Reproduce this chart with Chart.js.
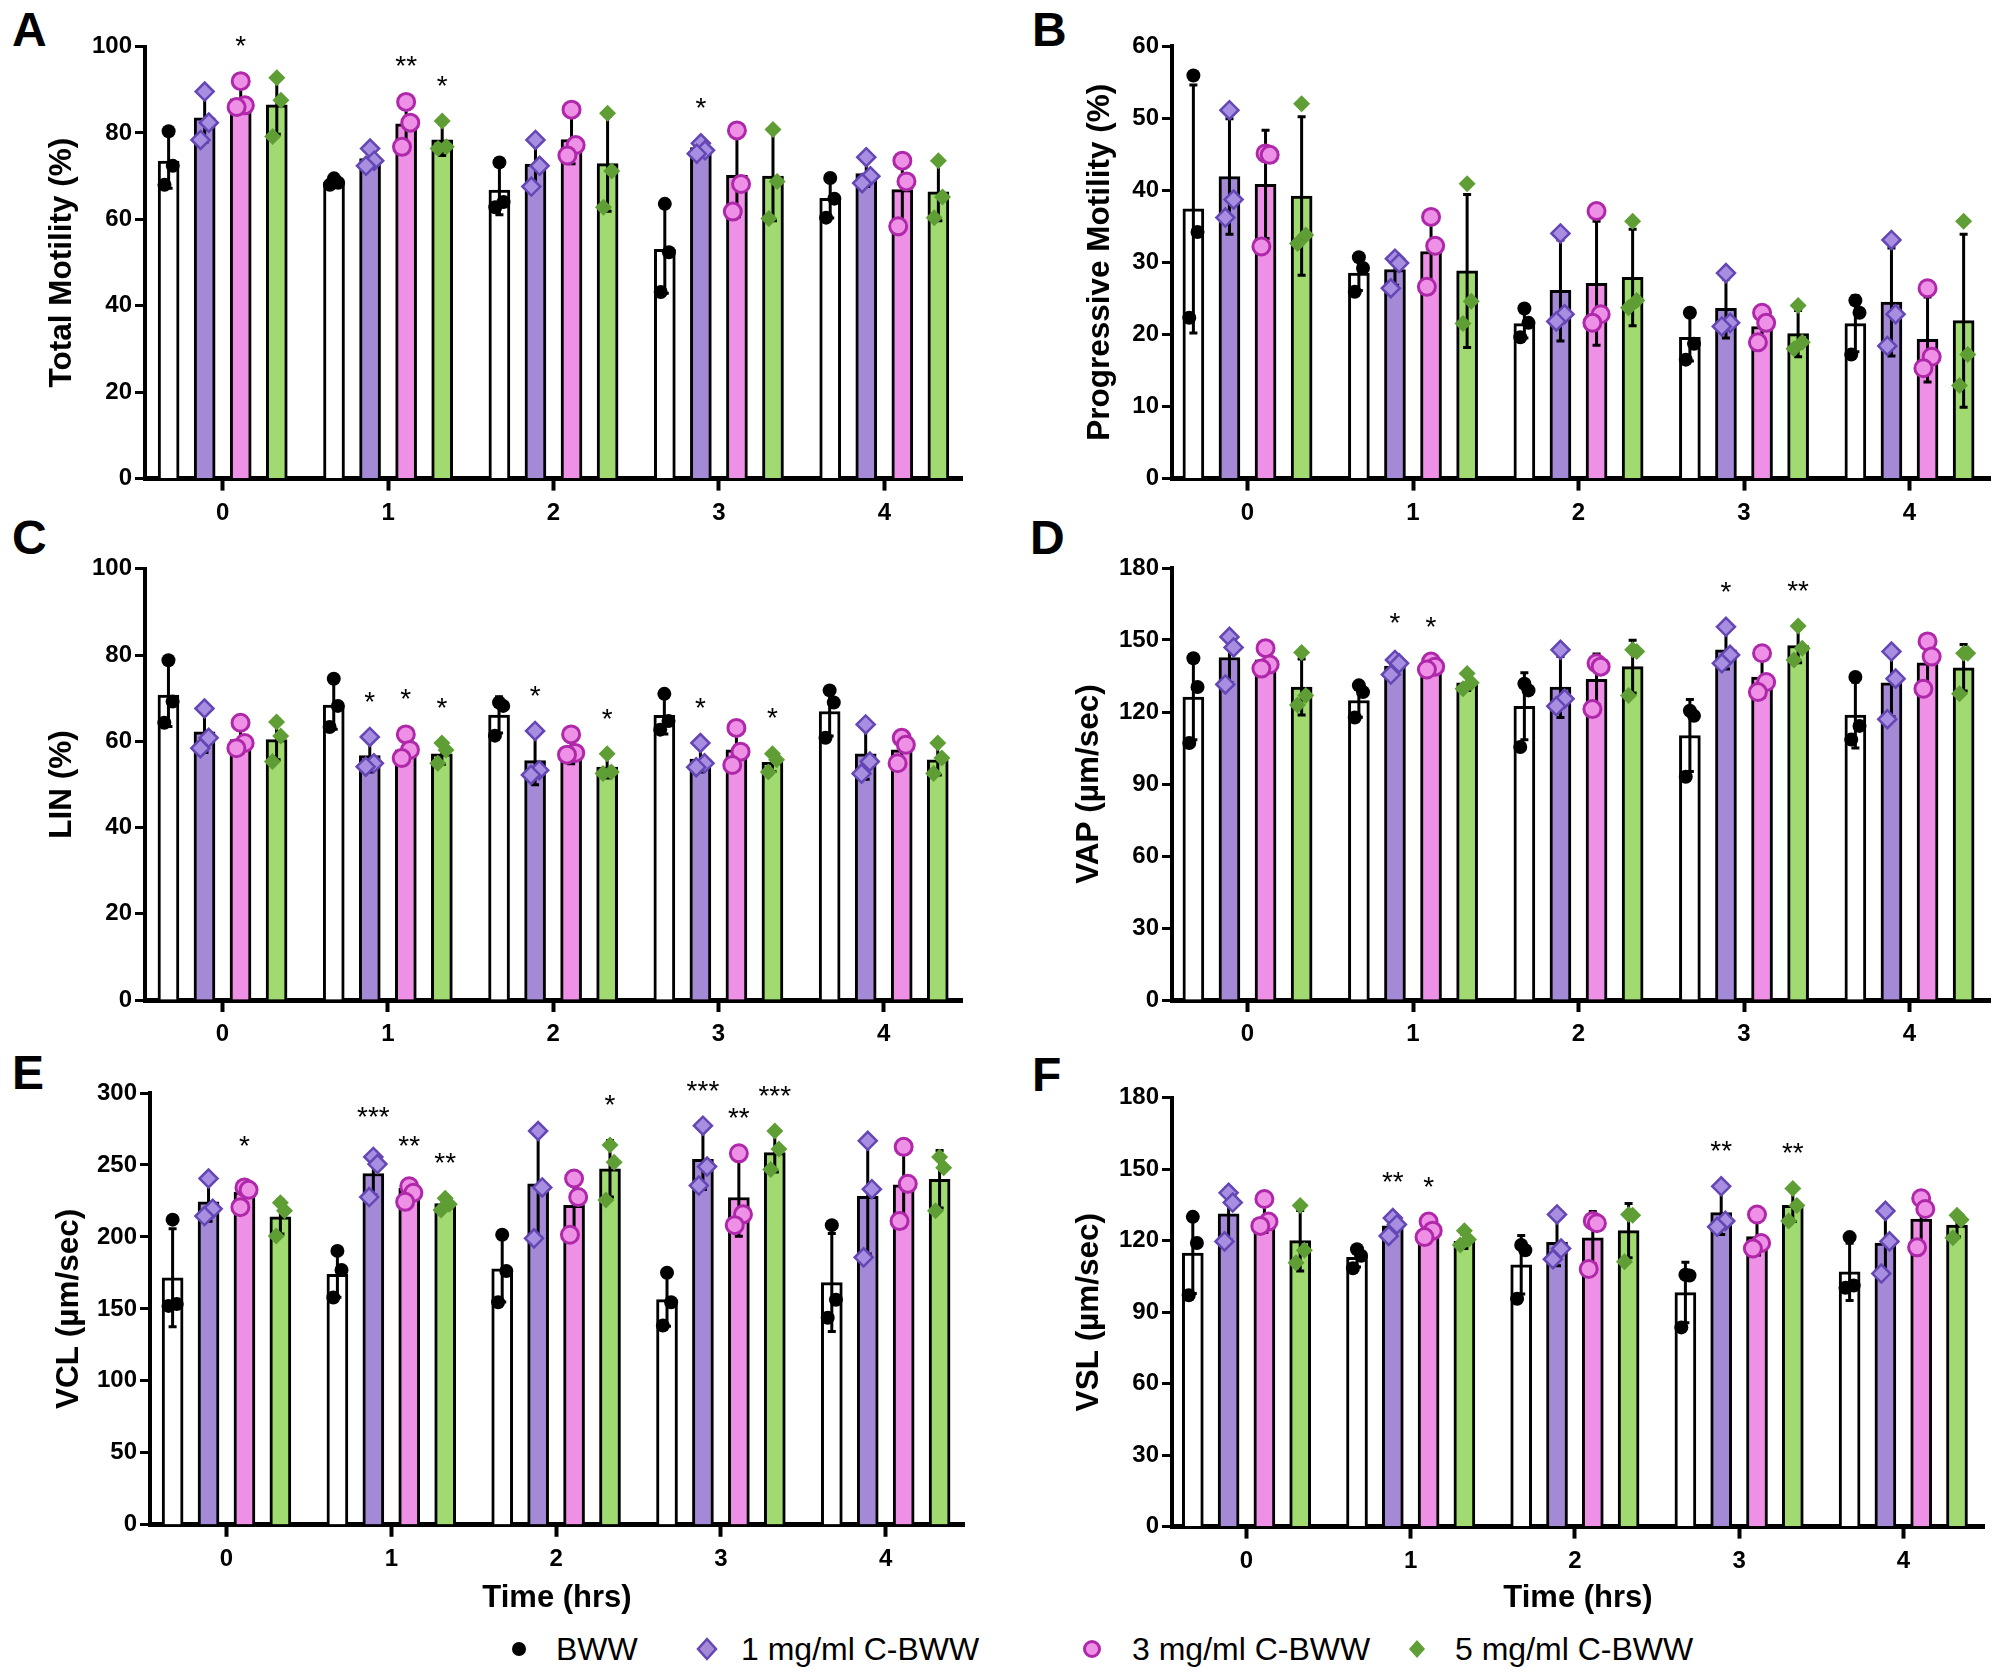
<!DOCTYPE html>
<html>
<head>
<meta charset="utf-8">
<script src="https://cdn.jsdelivr.net/npm/chart.js@4"></script>
<style>
  body { margin:0; background:#fff; width:2001px; height:1673px; position:relative; overflow:hidden;
         font-family:"Liberation Sans", Arial, sans-serif; }
  canvas { position:absolute; }
  .letter { position:absolute; font-weight:bold; font-size:48px; line-height:1; color:#000; }
  .lg { position:absolute; top:1631px; height:36px; line-height:36px; font-size:32px; color:#000; white-space:nowrap; }
  .sym { position:absolute; top:1637px; }
</style>
</head>
<body>
<div class="letter" style="left:12px;top:6px">A</div>
<div class="letter" style="left:1032px;top:6px">B</div>
<div class="letter" style="left:12px;top:514px">C</div>
<div class="letter" style="left:1030px;top:514px">D</div>
<div class="letter" style="left:12px;top:1049px">E</div>
<div class="letter" style="left:1032px;top:1051px">F</div>

<svg class="sym" style="left:507px" width="24" height="24"><circle cx="12" cy="12" r="7" fill="#000"/></svg>
<div class="lg" style="left:556px">BWW</div>
<svg class="sym" style="left:695px" width="24" height="24"><polygon points="12,2 21,12 12,22 3,12" fill="#a48ad6" stroke="#6446b4" stroke-width="2.5"/></svg>
<div class="lg" style="left:741px">1 mg/ml C-BWW</div>
<svg class="sym" style="left:1080px" width="24" height="24"><circle cx="12" cy="12" r="7.5" fill="#ee90e6" stroke="#b028aa" stroke-width="3"/></svg>
<div class="lg" style="left:1132px">3 mg/ml C-BWW</div>
<svg class="sym" style="left:1405px" width="24" height="24"><polygon points="12,3 20,12 12,21 4,12" fill="#5f9e35"/></svg>
<div class="lg" style="left:1455px">5 mg/ml C-BWW</div>

<script>
// time points and treatment groups
const categories = ['0', '1', '2', '3', '4'];
const groups = ['BWW', '1 mg/ml C-BWW', '3 mg/ml C-BWW', '5 mg/ml C-BWW'];

// A - total motility (%): mean, SD, individual replicates [group][time][rep]
const motMean = [[73.5, 68.6, 66.8, 53.1, 64.9], [83.5, 74.1, 72.8, 76.6, 70.6], [87.9, 82.1, 78.5, 70.2, 66.9], [86.5, 78.4, 72.9, 70.0, 66.4]];
const motSD = [[6.3, 0.7, 5.7, 10.2, 4.6], [5.6, 2.0, 5.4, 1.2, 3.0], [3.4, 5.2, 5.6, 9.6, 7.8], [6.8, 3.6, 11.0, 10.3, 6.7]];
const motPts = [
  [[80.4, 72.4, 68.0], [69.5, 68.5, 68.0], [73.2, 64.0, 62.8], [63.6, 52.4, 43.2], [69.6, 64.8, 60.4]],
  [[89.6, 82.4, 78.4], [76.4, 73.6, 72.4], [78.4, 72.4, 67.6], [77.6, 76.0, 75.2], [74.4, 70.0, 68.4]],
  [[92.0, 86.4, 86.0], [87.2, 82.4, 76.8], [85.4, 77.2, 74.8], [80.6, 68.2, 61.8], [73.6, 68.8, 58.4]],
  [[92.8, 87.6, 79.2], [82.8, 76.8, 76.4], [84.6, 71.2, 62.8], [80.8, 68.8, 60.2], [73.6, 65.2, 60.4]]
];
const motStars = [[0, 2, '*'], [1, 2, '**'], [1, 3, '*'], [3, 1, '*']];

// B - progressive motility (%)
const progMean = [[37.4, 28.5, 21.5, 19.6, 21.5], [41.9, 29.0, 26.1, 23.6, 24.5], [40.8, 31.5, 27.1, 21.1, 19.3], [39.2, 28.8, 27.9, 20.1, 21.9]];
const progSD = [[17.2, 2.4, 2.0, 3.3, 3.9], [8.0, 2.2, 7.0, 4.1, 7.5], [7.5, 4.8, 8.6, 2.1, 5.9], [11.0, 10.6, 6.7, 3.2, 12.0]];
const progPts = [
  [[55.9, 34.2, 22.3], [30.7, 29.2, 25.9], [23.6, 21.6, 19.6], [23.0, 18.7, 16.5], [24.7, 23.0, 17.2]],
  [[51.1, 38.7, 36.2], [30.5, 29.9, 26.4], [34.0, 22.8, 21.8], [28.5, 21.6, 21.1], [33.1, 22.8, 18.4]],
  [[45.1, 44.9, 32.2], [36.3, 32.3, 26.6], [37.1, 22.8, 21.6], [23.0, 21.6, 18.9], [26.4, 16.9, 15.3]],
  [[52.0, 33.8, 32.6], [40.9, 24.6, 21.5], [35.7, 24.7, 23.7], [24.0, 18.9, 18.0], [35.7, 17.2, 12.9]]
];
const progStars = [];

// C - LIN (%)
const linMean = [[70.7, 68.4, 66.1, 66.0, 66.9], [62.2, 56.7, 55.5, 55.9, 57.1], [60.4, 58.0, 57.4, 58.0, 58.0], [60.4, 57.1, 54.0, 55.1, 55.7]];
const linSD = [[7.3, 5.6, 4.2, 4.3, 5.7], [4.8, 3.8, 5.6, 3.0, 5.9], [3.1, 2.8, 2.6, 4.4, 3.0], [4.7, 2.4, 2.5, 2.1, 3.5]];
const linPts = [
  [[78.8, 69.2, 64.3], [74.5, 68.2, 63.3], [69.0, 68.2, 61.3], [71.0, 64.7, 62.7], [71.8, 69.0, 60.8]],
  [[67.6, 60.8, 58.4], [61.0, 54.9, 54.1], [62.4, 53.3, 52.2], [59.6, 54.9, 54.0], [63.9, 55.3, 52.5]],
  [[64.3, 59.6, 58.4], [61.6, 58.0, 56.1], [61.6, 57.3, 56.9], [63.1, 57.6, 54.5], [60.8, 59.2, 54.9]],
  [[64.5, 61.2, 55.3], [59.6, 58.0, 54.9], [57.1, 52.9, 52.5], [57.1, 55.7, 52.9], [59.6, 56.1, 52.5]]
];
const linStars = [[1, 1, '*'], [1, 2, '*'], [1, 3, '*'], [2, 1, '*'], [2, 3, '*'], [3, 1, '*'], [3, 3, '*']];

// D - VAP (µm/sec)
const vapMean = [[126.2, 124.8, 122.4, 110.2, 118.7], [142.7, 139.1, 130.4, 145.9, 132.2], [141.7, 137.7, 133.6, 134.6, 140.5], [130.4, 132.2, 138.9, 147.7, 138.4]];
const vapSD = [[17.8, 7.0, 14.0, 15.0, 13.7], [10.4, 3.2, 12.7, 8.0, 14.2], [4.5, 1.7, 10.6, 8.4, 10.0], [11.7, 3.2, 11.0, 7.2, 9.7]];
const vapPts = [
  [[142.4, 130.4, 107.1], [131.1, 128.3, 117.7], [131.8, 129.0, 105.4], [120.5, 118.4, 93.0], [134.6, 114.2, 108.5]],
  [[151.3, 146.9, 131.5], [141.7, 140.3, 135.6], [145.9, 125.5, 122.4], [155.5, 143.8, 140.3], [145.2, 133.9, 117.0]],
  [[146.6, 139.8, 138.1], [141.0, 138.9, 137.7], [140.3, 138.9, 121.2], [144.5, 132.5, 128.3], [149.4, 143.1, 129.7]],
  [[144.8, 126.9, 122.9], [136.0, 132.2, 129.7], [145.9, 145.2, 126.9], [155.8, 146.6, 141.7], [144.5, 144.5, 127.6]]
];
const vapStars = [[1, 1, '*'], [1, 2, '*'], [3, 1, '*'], [3, 3, '**']];

// E - VCL (µm/sec)
const vclMean = [[171.6, 174.1, 177.8, 156.4, 168.3], [224.4, 244.1, 236.9, 253.9, 228.2], [231.2, 233.7, 222.0, 227.4, 236.2], [214.0, 223.2, 247.4, 258.6, 240.1]];
const vclSD = [[34.0, 16.0, 23.0, 18.4, 34.0], [13.5, 15.0, 37.0, 21.0, 40.0], [7.5, 5.4, 20.0, 27.0, 26.0], [12.0, 4.1, 19.6, 13.4, 20.0]];
const vclPts = [
  [[212.0, 153.4, 152.1], [190.3, 177.1, 157.9], [201.5, 176.3, 154.6], [175.1, 154.6, 138.4], [208.2, 156.4, 143.9]],
  [[240.6, 219.5, 214.5], [255.6, 250.6, 227.7], [273.6, 234.4, 199.0], [277.3, 248.9, 235.7], [266.8, 233.2, 185.8]],
  [[234.4, 232.7, 220.7], [235.2, 230.7, 224.4], [240.6, 227.7, 201.5], [258.1, 215.7, 208.2], [262.6, 236.9, 211.0]],
  [[223.7, 218.2, 200.7], [226.9, 222.7, 218.7], [263.8, 251.9, 225.7], [273.6, 261.1, 246.9], [255.6, 248.1, 218.2]]
];
const vclStars = [[0, 2, '*'], [1, 1, '***'], [1, 2, '**'], [1, 3, '**'], [2, 3, '*'], [3, 1, '***'], [3, 2, '**'], [3, 3, '***']];

// F - VSL (µm/sec)
const vslMean = [[114.8, 113.0, 109.9, 98.2, 106.9], [131.3, 126.2, 119.3, 131.8, 119.0], [129.5, 123.8, 121.2, 121.7, 129.1], [120.0, 119.7, 124.2, 134.8, 126.5]];
const vslSD = [[17.0, 4.0, 12.3, 12.7, 12.0], [11.0, 3.8, 9.8, 9.2, 13.0], [6.0, 3.3, 11.0, 7.7, 10.8], [12.7, 3.0, 11.4, 6.8, 5.0]];
const vslPts = [
  [[130.0, 119.0, 97.1], [116.4, 113.7, 108.4], [118.2, 116.0, 95.6], [105.7, 105.4, 83.6], [121.5, 101.2, 100.2]],
  [[140.1, 136.0, 119.7], [129.5, 126.8, 122.0], [131.0, 116.7, 112.2], [142.8, 128.3, 125.8], [132.5, 119.7, 106.2]],
  [[137.5, 128.0, 126.2], [128.0, 124.2, 121.5], [128.3, 127.3, 108.1], [131.0, 119.0, 116.7], [137.8, 133.3, 117.2]],
  [[134.8, 116.0, 110.7], [124.2, 120.5, 118.2], [131.0, 130.7, 111.1], [141.9, 134.8, 128.3], [130.7, 128.8, 121.2]]
];
const vslStars = [[1, 1, '**'], [1, 2, '*'], [3, 1, '**'], [3, 3, '**']];

// styling
const FONT = '"Liberation Sans", Arial, sans-serif';
Chart.defaults.font.family = FONT;
const barFill = ['#ffffff', '#a48ad6', '#ee90e6', '#a0da70'];
const ptStyle = [
  { pointStyle: 'circle', radius: 7, backgroundColor: '#000', borderColor: '#000', borderWidth: 0 },
  { pointStyle: 'rectRot', radius: 9, backgroundColor: '#a88ee0', borderColor: '#6446b4', borderWidth: 2.5 },
  { pointStyle: 'circle', radius: 8.5, backgroundColor: '#ee90e6', borderColor: '#b028aa', borderWidth: 3 },
  { pointStyle: 'rectRot', radius: 8.5, backgroundColor: '#5f9e35', borderColor: '#5f9e35', borderWidth: 0 }
];
const SLOT = 0.218;            // distance between neighbouring bars, in time-axis units
const JIT = [0, 0.025, -0.025]; // small sideways spread of replicate points
const YT_SIZE = 31.5;

// geometry: canvas box, plot area, first category pixel (c0) and spacing (sp)
const panels = [
  { mean: motMean, sd: motSD, pts: motPts, stars: motStars, yMax: 100, step: 20, title: 'Total Motility (%)',
    left: 0, top: 0, w: 1000, h: 540, area: { l: 145, r: 962, t: 46.6, b: 478.6 }, c0: 222.7, sp: 165.4, titleX: 62, xTitle: false },
  { mean: progMean, sd: progSD, pts: progPts, stars: progStars, yMax: 60, step: 10, title: 'Progressive Motility (%)',
    left: 1000, top: 0, w: 1001, h: 540, area: { l: 172, r: 990, t: 46, b: 478.6 }, c0: 247.5, sp: 165.5, titleX: 100, xTitle: false },
  { mean: linMean, sd: linSD, pts: linPts, stars: linStars, yMax: 100, step: 20, title: 'LIN (%)',
    left: 0, top: 540, w: 1000, h: 520, area: { l: 145, r: 962, t: 28.8, b: 460 }, c0: 222.5, sp: 165.3, titleX: 62, xTitle: false },
  { mean: vapMean, sd: vapSD, pts: vapPts, stars: vapStars, yMax: 180, step: 30, title: 'VAP (µm/sec)',
    left: 1000, top: 540, w: 1001, h: 520, area: { l: 172, r: 990, t: 28, b: 460 }, c0: 247.5, sp: 165.5, titleX: 89, xTitle: false },
  { mean: vclMean, sd: vclSD, pts: vclPts, stars: vclStars, yMax: 300, step: 50, title: 'VCL (µm/sec)',
    left: 0, top: 1060, w: 1000, h: 580, area: { l: 150, r: 964, t: 33, b: 464.8 }, c0: 226.5, sp: 164.8, titleX: 69, xTitle: true },
  { mean: vslMean, sd: vslSD, pts: vslPts, stars: vslStars, yMax: 180, step: 30, title: 'VSL (µm/sec)',
    left: 1000, top: 1060, w: 1001, h: 580, area: { l: 172, r: 984, t: 37.7, b: 466.6 }, c0: 246.5, sp: 164.2, titleX: 89, xTitle: true }
];

// error bars (mean ± SD) drawn right after each bar dataset, under the replicate points
const errPlugin = {
  id: 'errbars',
  afterDatasetDraw(chart, args) {
    const ds = chart.data.datasets[args.index];
    if (!ds.errs) return;
    const ctx = chart.ctx, y = chart.scales.y;
    ctx.save();
    ctx.strokeStyle = '#000';
    ctx.lineWidth = 3;
    args.meta.data.forEach((bar, j) => {
      const m = ds.data[j].y, e = ds.errs[j];
      const yt = y.getPixelForValue(m + e), yb = y.getPixelForValue(Math.max(0, m - e));
      ctx.beginPath();
      ctx.moveTo(bar.x, yt); ctx.lineTo(bar.x, yb);
      ctx.moveTo(bar.x - 4, yt); ctx.lineTo(bar.x + 4, yt);
      ctx.moveTo(bar.x - 4, yb); ctx.lineTo(bar.x + 4, yb);
      ctx.stroke();
    });
    ctx.restore();
  }
};

// significance asterisks above the highest mark of a bar
const starPlugin = {
  id: 'stars',
  afterDraw(chart, args, opts) {
    const p = opts.panel;
    if (!p || !p.stars.length) return;
    const ctx = chart.ctx, y = chart.scales.y;
    ctx.save();
    ctx.fillStyle = '#000';
    ctx.font = '28px ' + FONT;
    ctx.textAlign = 'center';
    ctx.textBaseline = 'alphabetic';
    p.stars.forEach(([c, g, txt]) => {
      const bar = chart.getDatasetMeta(g).data[c];
      const top = Math.max(p.mean[g][c] + p.sd[g][c], ...p.pts[g][c]);
      const yc = y.getPixelForValue(top) - 42;
      ctx.fillText(txt, bar.x, yc + 16);
    });
    ctx.restore();
  }
};

function makeChart(p) {
  const cv = document.createElement('canvas');
  cv.width = p.w; cv.height = p.h;
  cv.style.left = p.left + 'px';
  cv.style.top = p.top + 'px';
  cv.style.width = p.w + 'px';
  cv.style.height = p.h + 'px';
  document.body.appendChild(cv);

  const padL = p.titleX - YT_SIZE * 0.6;
  const yW = p.area.l - padL;
  const xH = p.xTitle ? (538 + 18.6 - p.area.b) : 50;
  const xMin = -(p.c0 - p.area.l) / p.sp;
  const xMax = 4 + (p.area.r - (p.c0 + 4 * p.sp)) / p.sp;

  const datasets = [];
  groups.forEach((g, i) => {
    const off = SLOT * (i - 1.5);
    datasets.push({
      type: 'bar', label: g, data: p.mean[i].map((v, c) => ({ x: c + off, y: v })), errs: p.sd[i],
      backgroundColor: barFill[i], borderColor: '#000', borderWidth: 3, borderSkipped: 'start',
      grouped: false, categoryPercentage: 1, barPercentage: 1, maxBarThickness: 21, order: 1
    });
  });
  groups.forEach((g, i) => {
    const off = SLOT * (i - 1.5);
    const pts = [];
    p.pts[i].forEach((vals, c) => vals.forEach((v, k) => pts.push({ x: c + off + JIT[k], y: v })));
    datasets.push(Object.assign({ type: 'scatter', label: g, data: pts, order: 0 }, ptStyle[i]));
  });

  const tickFont = { size: 24, weight: 'bold', family: FONT };
  new Chart(cv, {
    type: 'bar',
    data: { datasets },
    options: {
      responsive: false,
      animation: false,
      events: [],
      layout: {
        autoPadding: false,
        padding: { left: padL, right: p.w - p.area.r, top: p.area.t, bottom: p.h - p.area.b - xH }
      },
      plugins: { legend: { display: false }, tooltip: { enabled: false }, stars: { panel: p } },
      scales: {
        x: {
          type: 'linear', min: xMin, max: xMax, offset: false,
          afterBuildTicks: s => { s.ticks = categories.map((c, i) => ({ value: i })); },
          grid: { offset: false, drawOnChartArea: false, drawTicks: true, tickLength: 12, tickWidth: 4, tickColor: '#000' },
          border: { display: true, width: 5, color: '#000' },
          ticks: { font: tickFont, color: '#000', padding: 8, autoSkip: false, maxRotation: 0,
                   callback: v => categories[v] },
          title: { display: p.xTitle, text: 'Time (hrs)', color: '#000', padding: 0,
                   font: { size: 31, weight: 'bold', family: FONT } },
          afterFit: s => { s.height = xH; }
        },
        y: {
          min: 0, max: p.yMax,
          ticks: { stepSize: p.step, font: tickFont, color: '#000', padding: 3 },
          grid: { drawOnChartArea: false, drawTicks: true, tickLength: 10, tickWidth: 3, tickColor: '#000' },
          border: { display: true, width: 4, color: '#000' },
          title: { display: true, text: p.title, color: '#000', padding: 0,
                   font: { size: YT_SIZE, weight: 'bold', family: FONT } },
          afterFit: s => { s.width = yW; }
        }
      }
    },
    plugins: [errPlugin, starPlugin]
  });
}

panels.forEach(makeChart);
</script>
</body>
</html>
